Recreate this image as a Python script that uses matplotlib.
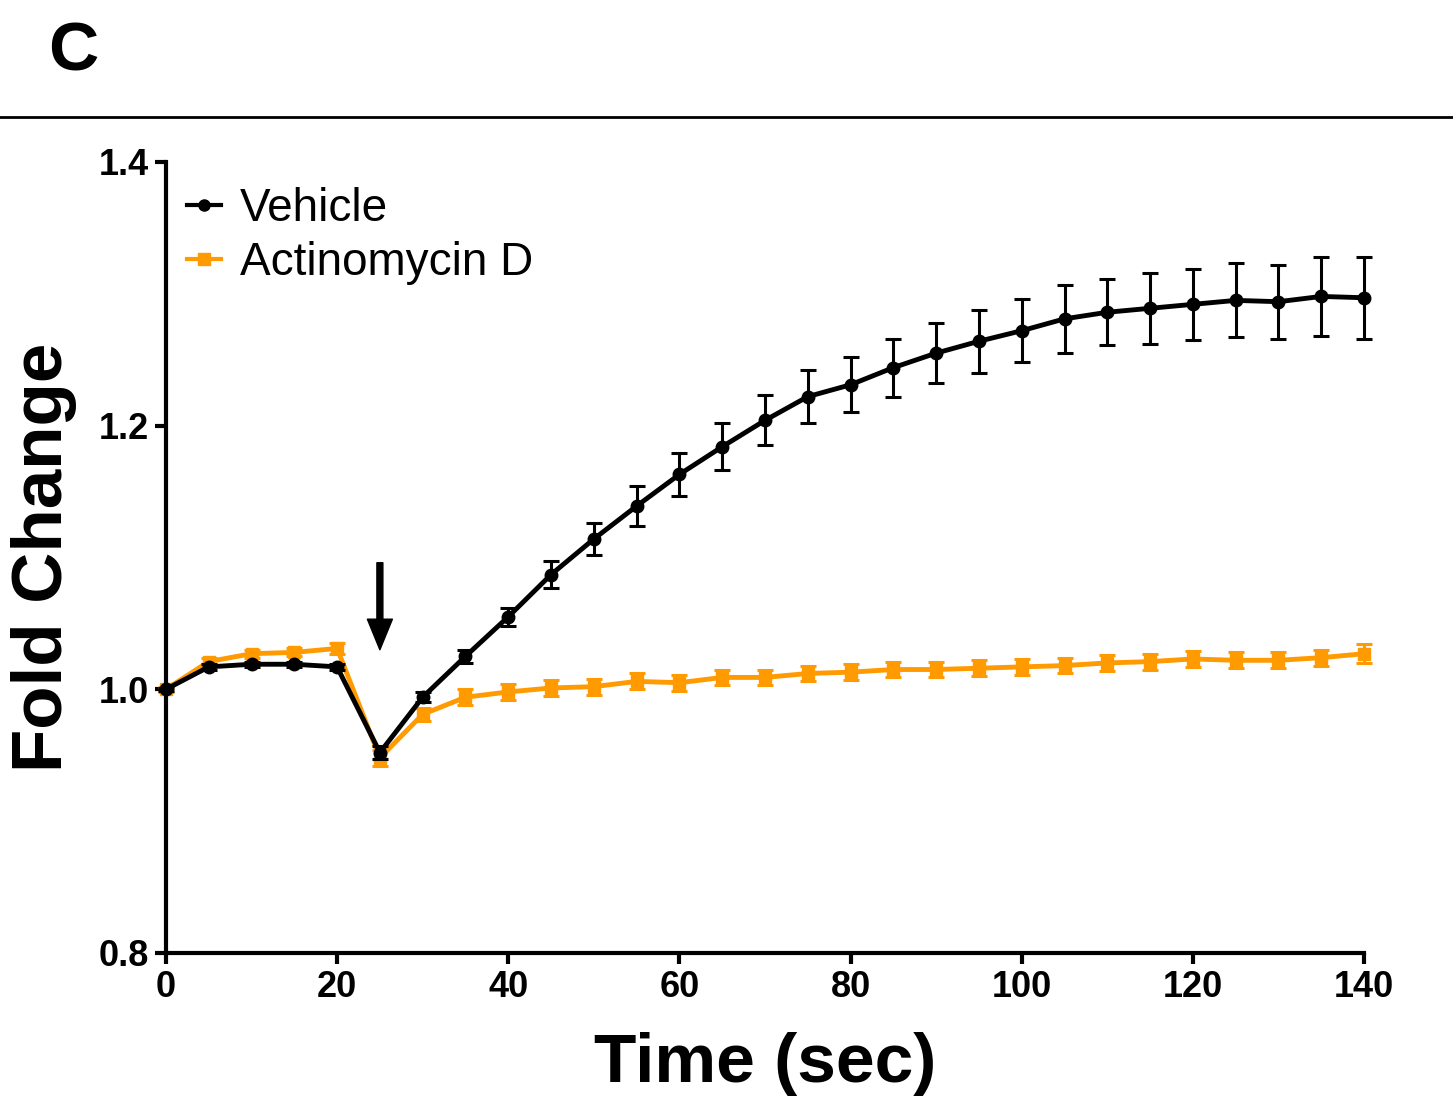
import matplotlib
matplotlib.use('Agg')
import matplotlib.pyplot as plt
from matplotlib.lines import Line2D

plt.rcParams['font.family'] = ['Liberation Sans', 'DejaVu Sans']

# data
time = [0, 5, 10, 15, 20, 25, 30, 35, 40, 45, 50, 55, 60, 65, 70,
        75, 80, 85, 90, 95, 100, 105, 110, 115, 120, 125, 130, 135, 140]

vehicle = [1.000, 1.017, 1.019, 1.019, 1.017, 0.952, 0.994, 1.025, 1.055, 1.087,
           1.114, 1.139, 1.163, 1.184, 1.204, 1.222, 1.231, 1.244, 1.255, 1.264,
           1.272, 1.281, 1.286, 1.289, 1.292, 1.295, 1.294, 1.298, 1.297]
vehicle_err = [0.001, 0.002, 0.002, 0.002, 0.002, 0.005, 0.004, 0.005, 0.007, 0.010,
               0.012, 0.015, 0.016, 0.018, 0.019, 0.020, 0.021, 0.022, 0.023, 0.024,
               0.024, 0.026, 0.025, 0.027, 0.027, 0.028, 0.028, 0.030, 0.031]

actd = [1.000, 1.021, 1.027, 1.028, 1.031, 0.948, 0.981, 0.994, 0.998, 1.001,
        1.002, 1.006, 1.005, 1.009, 1.009, 1.012, 1.013, 1.015, 1.015, 1.016,
        1.017, 1.018, 1.020, 1.021, 1.023, 1.022, 1.022, 1.024, 1.027]
actd_err = [0.002, 0.003, 0.003, 0.003, 0.004, 0.006, 0.005, 0.006, 0.006, 0.006,
            0.006, 0.006, 0.006, 0.006, 0.006, 0.006, 0.006, 0.006, 0.006, 0.006,
            0.006, 0.006, 0.006, 0.006, 0.006, 0.006, 0.006, 0.006, 0.007]

orange = '#FF9A00'

fig = plt.figure(figsize=(14.53, 11.04), dpi=100)
ax = fig.add_axes([0.1142, 0.1368, 0.8246, 0.7165])

eb1 = ax.errorbar(time, actd, yerr=actd_err, color=orange, lw=3.5, marker='s', ms=8.5,
                  capsize=6, capthick=2.2, elinewidth=2.2, zorder=2)
eb2 = ax.errorbar(time, vehicle, yerr=vehicle_err, color='black', lw=3.5, marker='o', ms=9,
                  capsize=6, capthick=2.2, elinewidth=2.2, zorder=3)
for eb in (eb1, eb2):
    for art in eb.lines[:1] + eb.lines[1] + eb.lines[2]:
        if art is not None:
            art.set_clip_on(False)

ax.set_xlim(0, 140)
ax.set_ylim(0.8, 1.4)
ax.set_xticks(range(0, 141, 20))
ax.set_yticks([0.8, 1.0, 1.2, 1.4])
ax.set_yticklabels(['0.8', '1.0', '1.2', '1.4'])
for s in ['top', 'right']:
    ax.spines[s].set_visible(False)
for s in ['left', 'bottom']:
    ax.spines[s].set_linewidth(3)
ax.tick_params(width=3, length=8, labelsize=26, pad=4)
for lab in ax.get_xticklabels() + ax.get_yticklabels():
    lab.set_fontweight('bold')

ax.set_xlabel('Time (sec)', fontsize=50, fontweight='bold', labelpad=20)
ax.set_ylabel('Fold Change', fontsize=51, fontweight='bold', labelpad=16)

# stimulus arrow
ax.annotate('', xy=(25, 1.030), xytext=(25, 1.096),
            arrowprops=dict(width=4.3, headwidth=18, headlength=22, shrink=0,
                            facecolor='black', edgecolor='black'))

handles = [Line2D([], [], color='black', lw=3, marker='o', ms=8),
           Line2D([], [], color=orange, lw=3, marker='s', ms=8)]
ax.legend(handles, ['Vehicle', 'Actinomycin D'], loc='upper left', frameon=False,
          fontsize=33, handlelength=0.75, handletextpad=0.4, labelspacing=0.22,
          borderpad=0, borderaxespad=0, bbox_to_anchor=(0.0175, 0.968))

fig.text(0.033, 0.952, 'C', fontsize=50, fontweight='bold', va='center')
fig.add_artist(Line2D([0, 1], [0.894, 0.894], color='black', lw=2,
                      transform=fig.transFigure))

fig.savefig('out.png', dpi=100)
